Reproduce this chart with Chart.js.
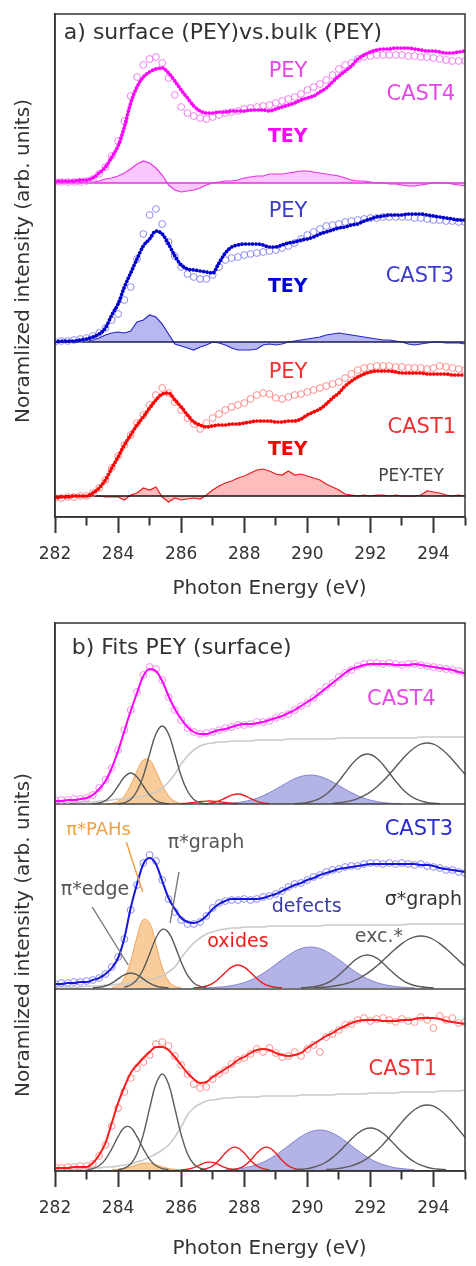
<!DOCTYPE html>
<html>
<head>
<meta charset="utf-8">
<script src="https://cdn.jsdelivr.net/npm/chart.js@4.4.1/dist/chart.umd.min.js"></script>
<style>
  html, body { margin: 0; padding: 0; background: #fff; }
  canvas { display: block; }
</style>
</head>
<body>
<canvas id="panelA" width="476" height="610"></canvas>
<canvas id="panelB" width="476" height="656"></canvas>
<script>
// === data ===
// photon energy grid shared by the spectra (eV)
const energies = [
  282.0, 282.2, 282.4, 282.6, 282.8, 283.0, 283.2, 283.4, 283.6, 283.8,
  284.0, 284.2, 284.4, 284.6, 284.8, 285.0, 285.2, 285.4, 285.6, 285.8,
  286.0, 286.2, 286.4, 286.6, 286.8, 287.0, 287.2, 287.4, 287.6, 287.8,
  288.0, 288.2, 288.4, 288.6, 288.8, 289.0, 289.2, 289.4, 289.6, 289.8,
  290.0, 290.2, 290.4, 290.6, 290.8, 291.0, 291.2, 291.4, 291.6, 291.8,
  292.0, 292.2, 292.4, 292.6, 292.8, 293.0, 293.2, 293.4, 293.6, 293.8,
  294.0, 294.2, 294.4, 294.6, 294.8, 295.0
];
const xTickLabels = [282, 284, 286, 288, 290, 292, 294];

// panel a: TEY (bulk), PEY (surface) and PEY-TEY, arb. units above each baseline
const cast4Tey = [
  2, 2, 2, 2, 3, 3, 5, 10, 16, 26,
  37, 56, 80, 96, 106, 111, 114, 115, 110, 102,
  93, 85, 77, 72, 70, 70, 71, 71, 72, 72,
  72, 73, 73, 73, 72, 74, 76, 78, 80, 83,
  85, 87, 91, 95, 101, 107, 112, 117, 124, 128,
  131, 133, 134, 134, 135, 135, 135, 134, 133, 132,
  132, 131, 130, 130, 131, 132
];
const cast4Pey = [
  1, 1, 1, 1, 1, 2, 4, 9, 16, 27,
  42, 62, 87, 106, 118, 124, 126, 120, 105, 88,
  76, 70, 67, 65, 64, 66, 68, 70, 71, 72,
  74, 75, 76, 77, 78, 80, 82, 84, 86, 89,
  93, 96, 99, 103, 108, 114, 118, 120, 124, 126,
  127, 128, 128, 128, 128, 128, 127, 127, 126, 126,
  125, 124, 123, 122, 122, 122
];
const cast4Diff = [
  0, 1, 1, 1, 1, 1, 1, 2, 4, 5,
  7, 10, 14, 19, 22, 20, 15, 8, -2, -7,
  -9, -8, -7, -5, -2, 0, 1, 2, 2, 3,
  5, 6, 7, 7, 9, 9, 9, 10, 11, 12,
  12, 11, 10, 9, 8, 7, 5, 3, 2, 2,
  1, 0, 0, -1, -1, -2, -3, -3, -2, -1,
  0, 0, 0, -1, -2, -3
];
const cast3Tey = [
  0, 1, 1, 1, 2, 3, 5, 8, 14, 27,
  38, 55, 69, 83, 96, 103, 111, 108, 98, 86,
  77, 73, 72, 71, 70, 69, 79, 89, 95, 97,
  98, 98, 98, 97, 95, 95, 97, 99, 100, 102,
  103, 105, 108, 110, 112, 114, 115, 117, 118, 121,
  123, 125, 126, 127, 127, 127, 128, 128, 128, 127,
  126, 125, 124, 123, 122, 122
];
const cast3Pey = [
  0, 1, 1, 2, 3, 4, 6, 9, 14, 22,
  28, 42, 55, 83, 108, 127, 133, 118, 100, 86,
  75, 68, 65, 63, 63, 67, 75, 82, 84, 85,
  87, 88, 89, 90, 91, 92, 94, 96, 99, 103,
  107, 110, 113, 116, 117, 118, 120, 121, 122, 123,
  124, 124, 125, 125, 125, 125, 125, 124, 124, 123,
  122, 122, 121, 121, 120, 120
];
const cast3Diff = [
  0, 0, 0, 0, 1, 1, 2, 4, 7, 9,
  10, 9, 11, 20, 22, 27, 25, 18, 8, -2,
  -4, -6, -8, -5, -3, 0, -1, -3, -6, -8,
  -8, -8, -7, -3, -2, -3, -2, 0, 1, 2,
  3, 4, 5, 7, 8, 9, 8, 7, 6, 5,
  4, 3, 2, 2, 1, 0, -2, -3, -2, -1,
  0, 0, -1, -1, -1, -2
];
const cast1Tey = [
  -2, -1, -1, 0, 0, 0, 3, 8, 16, 28,
  39, 51, 61, 71, 79, 88, 96, 102, 103, 96,
  89, 81, 74, 71, 69, 70, 71, 71, 72, 72,
  73, 74, 75, 75, 75, 74, 74, 75, 75, 77,
  81, 84, 87, 92, 98, 103, 110, 115, 119, 122,
  124, 125, 125, 125, 124, 123, 123, 123, 123, 122,
  122, 122, 122, 121, 121, 121
];
const cast1Pey = [
  -2, -2, -1, -1, 0, 0, 3, 8, 16, 28,
  40, 51, 61, 73, 81, 91, 101, 108, 103, 94,
  86, 78, 72, 67, 73, 78, 82, 86, 89, 91,
  93, 97, 101, 103, 102, 98, 97, 99, 101, 102,
  104, 106, 108, 110, 112, 114, 118, 122, 126, 128,
  129, 130, 130, 130, 129, 129, 128, 128, 128, 127,
  128, 130, 129, 128, 127, 126
];
const cast1Diff = [
  0, 0, 0, 0, 0, 0, 0, 0, -1, -1,
  -1, -4, 1, 3, 8, 6, 9, -1, -6, -2,
  -4, -3, -2, -3, 1, 6, 10, 13, 15, 18,
  20, 23, 26, 27, 25, 22, 21, 25, 21, 22,
  20, 18, 16, 12, 9, 6, 2, 1, 0, 1,
  0, 1, 1, 0, 1, 0, 0, 0, 1, 5,
  4, 3, 1, 0, 1, 0
];

// panel b: PEY data, total fit and edge step
const fit4 = [
  3, 3, 4, 4, 5, 6, 9, 15, 23, 36,
  53, 73, 93, 111, 128, 135, 133, 123, 108, 95,
  85, 77, 72, 70, 70, 72, 74, 75, 77, 79,
  80, 80, 81, 82, 84, 86, 88, 91, 94, 98,
  102, 106, 111, 116, 121, 126, 131, 135, 137, 139,
  140, 140, 140, 140, 139, 139, 139, 140, 139, 138,
  137, 136, 135, 134, 132, 131
];
const data4 = [
  4, 4, 4, 5, 5, 6, 9, 16, 24, 36,
  54, 74, 94, 112, 129, 137, 135, 124, 107, 94,
  84, 76, 72, 70, 71, 72, 74, 76, 77, 79,
  79, 80, 82, 82, 83, 86, 88, 90, 94, 98,
  101, 106, 112, 117, 121, 127, 131, 134, 138, 140,
  141, 141, 140, 141, 140, 139, 140, 140, 139, 138,
  137, 136, 135, 134, 133, 131
];
const step4 = [
  1, 1, 1, 1, 2, 2, 2, 3, 3, 4,
  5, 5, 6, 7, 8, 10, 12, 16, 22, 30,
  40, 48, 54, 58, 60, 61, 62, 62, 63, 63,
  63, 63, 64, 64, 64, 64, 64, 65, 65, 65,
  65, 65, 65, 65, 65, 66, 66, 66, 66, 66,
  66, 66, 66, 66, 66, 66, 66, 66, 67, 67,
  67, 67, 67, 67, 67, 67
];
const fit3 = [
  4, 4, 5, 5, 6, 6, 8, 10, 14, 20,
  30, 50, 80, 104, 124, 130, 124, 107, 90, 79,
  70, 66, 65, 67, 72, 79, 84, 87, 89, 89,
  89, 89, 89, 90, 92, 94, 97, 100, 103, 105,
  108, 110, 113, 115, 117, 119, 120, 121, 122, 123,
  124, 124, 124, 124, 124, 124, 124, 124, 123, 123,
  122, 120, 119, 118, 117, 116
];
const data3 = [
  4, 5, 5, 6, 6, 7, 8, 10, 14, 21,
  31, 49, 78, 103, 125, 133, 127, 108, 89, 76,
  68, 64, 64, 66, 72, 80, 85, 87, 88, 88,
  89, 88, 89, 91, 92, 94, 97, 101, 104, 105,
  108, 111, 113, 116, 118, 119, 121, 122, 122, 124,
  125, 125, 124, 125, 124, 125, 124, 123, 124, 122,
  121, 120, 118, 118, 116, 115
];
const step3 = [
  1, 1, 1, 1, 1, 2, 2, 2, 3, 3,
  4, 4, 5, 6, 7, 8, 10, 12, 16, 21,
  30, 38, 45, 50, 54, 56, 58, 59, 60, 60,
  61, 61, 61, 61, 62, 62, 62, 62, 62, 62,
  62, 62, 62, 63, 63, 63, 63, 63, 63, 63,
  63, 63, 63, 63, 63, 63, 64, 64, 64, 64,
  64, 64, 64, 64, 64, 64
];
const fit1 = [
  2, 2, 2, 3, 3, 3, 7, 15, 27, 47,
  67, 83, 97, 105, 112, 118, 123, 123, 120, 113,
  105, 97, 91, 87, 88, 93, 97, 101, 105, 110,
  113, 117, 120, 121, 120, 117, 115, 114, 115, 117,
  122, 126, 130, 134, 137, 141, 144, 147, 149, 150,
  150, 150, 149, 149, 149, 150, 150, 151, 152, 152,
  152, 151, 149, 148, 147, 146
];
const data1 = [
  3, 2, 3, 3, 4, 4, 6, 14, 25, 44,
  62, 78, 92, 102, 108, 115, 126, 128, 124, 114,
  105, 96, 86, 82, 83, 91, 96, 100, 106, 110,
  112, 116, 121, 118, 122, 117, 113, 114, 118, 114,
  121, 125, 118, 133, 136, 140, 145, 146, 150, 152,
  149, 151, 152, 150, 148, 151, 149, 148, 153, 150,
  142, 154, 150, 152, 147, 148
];
const step1 = [
  1, 1, 1, 1, 1, 2, 2, 2, 3, 3,
  4, 5, 6, 8, 10, 13, 16, 20, 25, 33,
  43, 55, 62, 66, 69, 70, 71, 72, 72, 73,
  73, 73, 73, 74, 74, 74, 74, 74, 74, 75,
  75, 75, 75, 75, 75, 76, 76, 76, 76, 76,
  77, 77, 77, 77, 77, 78, 78, 78, 78, 78,
  78, 79, 79, 79, 79, 80
];

// fitted peaks, sampled every 0.2 eV from the given start energy
const part = (from, values) => ({ from, values });

const b4Edge = part(283.2, [0.2, 1, 3.4, 9, 18, 27, 31, 27, 18, 9, 3.4, 1, 0.2]);
const b4Pah = part(283.6, [0.1, 0.7, 2.7, 8.3, 19, 33, 44, 44, 33, 19, 8.3, 2.7, 0.7, 0.1]);
const b4Graph = part(284.0, [0.3, 1.3, 4.6, 13, 28, 50, 70, 78, 70, 50, 28, 13, 4.6, 1.3, 0.3]);
const b4Ox1 = part(286.0, [0.3, 0.8, 1.6, 2.4, 2.9, 2.9, 2.3, 1.5, 0.8, 0.3]);
const b4Ox2 = part(286.8, [0.4, 1.2, 3.2, 6, 8.8, 10, 8.5, 5.5, 2.7, 1.0, 0.3]);
const b4Def = part(287.2, [0.3, 0.5, 0.9, 1.5, 2.5, 3.9, 5.8, 8.3, 11.4, 14.8, 18.5, 22.1, 25.3, 27.6, 28.8,
  28.8, 27.6, 25.3, 22.1, 18.5, 14.8, 11.4, 8.3, 5.8, 3.9, 2.5, 1.5, 0.9, 0.5, 0.3]);
const b4Exc = part(289.6, [0.3, 0.7, 1.5, 3.1, 5.7, 9.8, 15.6, 22.9, 31.2, 39.3, 45.8, 49.5,
  49.5, 45.8, 39.3, 31.2, 22.9, 15.6, 9.8, 5.7, 3.1, 1.5, 0.7, 0.3]);
const b4Sig = part(290.8, [0.7, 1.2, 2.1, 3.4, 5.4, 8.3, 12.1, 17, 22.9, 29.7, 37, 44.3, 51, 56.3, 59.8, 61,
  59.8, 56.3, 51, 44.3, 37, 29.7]);

const b3Edge = part(283.2, [0.2, 0.7, 2, 4.9, 9.1, 13.2, 15, 13.2, 9.1, 4.9, 2, 0.7, 0.2]);
const b3Pah = part(283.8, [0.5, 2.6, 10, 26.9, 51, 68.5, 65, 43.7, 20.8, 7, 1.7, 0.3]);
const b3Graph = part(284.2, [0.9, 3, 8.4, 18.8, 34.1, 49.8, 58.6, 55.5, 42.4, 26, 12.9, 5.1, 1.7, 0.4]);
const b3Ox = part(286.4, [0.2, 0.7, 2, 4.7, 9.5, 15.5, 20.8, 23, 20.8, 15.5, 9.5, 4.7, 2, 0.7, 0.2]);
const b3Def = part(286.8, [0.3, 0.5, 0.9, 1.5, 2.4, 3.7, 5.5, 7.9, 11, 14.7, 19, 23.7, 28.4, 32.8, 36.6, 39.4, 40.8,
  40.8, 39.4, 36.6, 32.8, 28.4, 23.7, 19, 14.7, 11, 7.9, 5.5, 3.7, 2.4, 1.5, 0.9, 0.5, 0.3]);
const b3Exc = part(289.8, [0.2, 0.5, 1.2, 2.5, 4.7, 8.2, 13, 18.8, 24.8, 29.8, 32.6,
  32.6, 29.8, 24.8, 18.8, 13, 8.2, 4.7, 2.5, 1.2, 0.5, 0.2]);
const b3Sig = part(290.2, [0.3, 0.6, 1.0, 1.7, 2.7, 4.2, 6.2, 9, 12.6, 16.9, 22, 27.6, 33.5, 39.3, 44.4, 48.5, 51.1, 52,
  51.1, 48.5, 44.4, 39.3, 33.5, 27.6, 22]);

const b1Edge = part(283.0, [0.4, 1.4, 4.3, 10.7, 21.2, 33.3, 42.5, 42.5, 33.3, 21.2, 10.7, 4.3, 1.4, 0.4]);
const b1Pah = part(283.8, [0.2, 0.6, 1.5, 3.2, 5.3, 6.8, 6.8, 5.3, 3.2, 1.5, 0.6, 0.2]);
const b1Graph = part(284.0, [0.4, 1.8, 6, 16.3, 35.4, 61.6, 85.9, 96, 85.9, 61.6, 35.4, 16.3, 6, 1.8, 0.4]);
const b1Ox1 = part(286.0, [0.2, 0.7, 2.4, 5.2, 7.6, 7.6, 5.2, 2.4, 0.7, 0.2]);
const b1Ox2 = part(286.6, [0.3, 1.4, 4.2, 9.7, 16.9, 22.2, 22.2, 16.9, 9.7, 4.2, 1.4, 0.3]);
const b1Ox3 = part(287.6, [0.3, 1.4, 4.2, 9.7, 16.9, 22.2, 22.2, 16.9, 9.7, 4.2, 1.4, 0.3]);
const b1Def = part(287.4, [0.4, 0.8, 1.4, 2.2, 3.6, 5.4, 7.9, 11.1, 15, 19.5, 24.3, 29, 33.4, 36.9, 39.2, 40,
  39.2, 36.9, 33.4, 29, 24.3, 19.5, 15, 11.1, 7.9, 5.4, 3.6, 2.2, 1.4, 0.8, 0.4]);
const b1Exc = part(289.6, [0.3, 0.7, 1.4, 2.7, 4.8, 8, 12.4, 18, 24.4, 31, 36.7, 40.6, 42,
  40.6, 36.7, 31, 24.4, 18, 12.4, 8, 4.8, 2.7, 1.4, 0.7, 0.3]);
const b1Sig = part(290.6, [0.5, 0.9, 1.6, 2.6, 4.2, 6.5, 9.7, 13.9, 19.2, 25.6, 32.7, 40.4, 47.9, 54.8, 60.2, 63.8, 65,
  63.8, 60.2, 54.8, 47.9, 40.4, 32.7]);

// === helpers ===
const FONT = '"DejaVu Sans", sans-serif';
Chart.defaults.font.family = FONT;
Chart.defaults.color = '#333';
const Y_TITLE = 'Noramlized intensity (arb. units)';
const X_TITLE = 'Photon Energy (eV)';

const pts = (vals, off, from = 282.0) => {
  const i0 = energies.indexOf(from);
  return vals.map((v, k) => ({ x: energies[i0 + k], y: off + v }));
};
const flat = off => [{ x: 282, y: off }, { x: 295, y: off }];

function xAxis(height) {
  return {
    type: 'linear', min: 282, max: 295,
    afterFit: s => { s.height = height; },
    ticks: {
      stepSize: 1, autoSkip: false, maxRotation: 0, padding: 11, color: '#333',
      font: { size: 17 },
      callback: v => (xTickLabels.includes(v) ? String(v) : '')
    },
    grid: {
      display: true, drawOnChartArea: false, drawTicks: true, tickLength: 16,
      tickWidth: 2, tickColor: '#333',
      tickBorderDash: c => (c.tick && !xTickLabels.includes(c.tick.value) ? [8, 100] : [])
    },
    border: { display: true, color: '#333', width: 1.5 },
    title: { display: false }
  };
}
function yAxis(max) {
  return {
    min: 0, max,
    afterFit: s => { s.width = 55; },
    ticks: { display: false },
    grid: { display: false },
    border: { display: true, color: '#333', width: 1.5 },
    title: { display: false }
  };
}

// frame + text labels, placed in data coordinates
function notesPlugin(texts, lines) {
  return {
    id: 'notes',
    afterDatasetsDraw(chart) {
      const { ctx, chartArea: a, scales: { x, y } } = chart;
      ctx.save();
      ctx.strokeStyle = '#333';
      ctx.lineWidth = 1.5;
      ctx.strokeRect(a.left, a.top, a.right - a.left, a.bottom - a.top);
      lines.forEach(l => {
        ctx.strokeStyle = l.color;
        ctx.lineWidth = 1.4;
        ctx.beginPath();
        ctx.moveTo(x.getPixelForValue(l.x1), y.getPixelForValue(l.y1));
        ctx.lineTo(x.getPixelForValue(l.x2), y.getPixelForValue(l.y2));
        ctx.stroke();
      });
      texts.forEach(t => {
        ctx.save();
        ctx.font = `${t.bold ? 'bold ' : ''}${t.size}px ${FONT}`;
        ctx.fillStyle = t.color;
        ctx.textAlign = t.align || 'center';
        ctx.textBaseline = 'middle';
        ctx.translate(x.getPixelForValue(t.x), y.getPixelForValue(t.y));
        if (t.rotate) ctx.rotate(-Math.PI / 2);
        ctx.fillText(t.text, 0, 0);
        ctx.restore();
      });
      ctx.restore();
    }
  };
}

function options(yMax, xHeight, padTop) {
  return {
    responsive: false, animation: false, events: [],
    layout: { padding: { top: padTop, right: 1, left: 0, bottom: 0 } },
    plugins: { legend: { display: false }, tooltip: { enabled: false } },
    scales: { x: xAxis(xHeight), y: yAxis(yMax) }
  };
}

// === panel a ===
function groupA(tey, pey, diff, off, c) {
  return [
    { data: pts(tey, off), borderColor: c.tey, borderWidth: 3.7, borderDash: [0.01, 3.5], borderCapStyle: 'round',
      pointRadius: 0, cubicInterpolationMode: 'monotone', order: 1 },
    { data: pts(pey, off), showLine: false, pointRadius: 3.4, pointBorderWidth: 1, pointBorderColor: c.pey,
      pointBackgroundColor: 'rgba(255,255,255,0)', order: 2 },
    { data: flat(off), borderColor: c.base, borderWidth: 1.4, pointRadius: 0, order: 3 },
    { data: pts(diff, off), borderColor: c.diff, borderWidth: 1.2, backgroundColor: c.fill, fill: { value: off },
      pointRadius: 0, tension: 0, order: 4 }
  ];
}

const offA = { cast4: 334, cast3: 175, cast1: 21 };
const textsA = [
  { text: 'a) surface (PEY)vs.bulk (PEY)', x: 282.28, y: 484, size: 22, color: '#333', align: 'left' },
  { text: 'PEY', x: 289.39, y: 445, size: 21, color: '#e646e6' },
  { text: 'TEY', x: 289.38, y: 380, size: 19, color: '#ff00ff', bold: true },
  { text: 'CAST4', x: 293.6, y: 422, size: 21, color: '#e646e6' },
  { text: 'PEY', x: 289.39, y: 305, size: 21, color: '#3c3cc8' },
  { text: 'TEY', x: 289.38, y: 230, size: 19, color: '#0000e0', bold: true },
  { text: 'CAST3', x: 293.57, y: 240, size: 21, color: '#3c3cc8' },
  { text: 'PEY', x: 289.39, y: 144, size: 21, color: '#f03030' },
  { text: 'TEY', x: 289.38, y: 67, size: 19, color: '#ff0000', bold: true },
  { text: 'CAST1', x: 293.63, y: 89, size: 21, color: '#f03030' },
  { text: 'PEY-TEY', x: 293.29, y: 40, size: 17, color: '#444' },
  { text: X_TITLE, x: 288.8, y: -72, size: 20, color: '#333' },
  { text: Y_TITLE, x: 281.0, y: 256, size: 20, color: '#333', rotate: true }
];

new Chart(document.getElementById('panelA'), {
  type: 'line',
  data: {
    datasets: [
      ...groupA(cast4Tey, cast4Pey, cast4Diff, offA.cast4,
        { tey: '#ff00ff', pey: '#f07ef0', base: '#e830e8', diff: '#e830e8', fill: 'rgba(248,130,248,0.45)' }),
      ...groupA(cast3Tey, cast3Pey, cast3Diff, offA.cast3,
        { tey: '#0000cc', pey: '#8c8cee', base: '#1c1c5c', diff: '#2828c8', fill: 'rgba(95,95,225,0.45)' }),
      ...groupA(cast1Tey, cast1Pey, cast1Diff, offA.cast1,
        { tey: '#ff0000', pey: '#ff8c8c', base: '#111111', diff: '#e81c1c', fill: 'rgba(255,95,95,0.42)' })
    ]
  },
  options: options(503, 93, 14),
  plugins: [notesPlugin(textsA, [])]
});

// === panel b ===
const GRAY = '#5a5a5a';
const RED = '#ee1c1c';
function partLine(p, off, color) {
  return { data: pts(p.values, off, p.from), borderColor: color, borderWidth: 1.4, pointRadius: 0, tension: 0.4, order: 4 };
}
function partFill(p, off, line, fill) {
  return { data: pts(p.values, off, p.from), borderColor: line, borderWidth: 1, backgroundColor: fill,
    fill: { value: off }, pointRadius: 0, tension: 0.4, order: 6 };
}
function groupB(fit, data, step, grays, reds, pah, def, off, c) {
  return [
    { data: pts(fit, off), borderColor: c.fit, borderWidth: 2, pointRadius: 0, cubicInterpolationMode: 'monotone', order: 1 },
    { data: pts(data, off), showLine: false, pointRadius: 3.4, pointBorderWidth: 1, pointBorderColor: c.data,
      pointBackgroundColor: 'rgba(255,255,255,0)', order: 2 },
    { data: pts(step, off), borderColor: '#cacaca', borderWidth: 1.6, pointRadius: 0, cubicInterpolationMode: 'monotone', order: 5 },
    ...grays.map(p => partLine(p, off, GRAY)),
    ...reds.map(p => partLine(p, off, RED)),
    partFill(pah, off, '#f0a458', 'rgba(245,172,95,0.62)'),
    partFill(def, off, 'rgba(105,105,200,0.75)', 'rgba(110,110,205,0.52)')
  ];
}

const offB = { cast4: 367, cast3: 183, cast1: 1 };
const separatorsB = [367, 182];
const textsB = [
  { text: 'b) Fits PEY (surface)', x: 282.53, y: 523, size: 22, color: '#333', align: 'left' },
  { text: 'CAST4', x: 292.98, y: 471, size: 21, color: '#e646e6' },
  { text: 'CAST3', x: 293.54, y: 341, size: 21, color: '#2a2ad0' },
  { text: 'π*PAHs', x: 283.38, y: 341, size: 18, color: '#f0a040' },
  { text: 'π*graph', x: 286.79, y: 328, size: 19, color: '#555' },
  { text: 'π*edge', x: 283.27, y: 281, size: 19, color: '#555' },
  { text: 'oxides', x: 287.8, y: 229, size: 19, color: RED },
  { text: 'defects', x: 289.98, y: 264, size: 19, color: '#3a3aa8' },
  { text: 'σ*graph', x: 293.68, y: 271, size: 19, color: '#333' },
  { text: 'exc.*', x: 292.27, y: 234, size: 19, color: '#555' },
  { text: 'CAST1', x: 293.03, y: 101, size: 21, color: '#f03030' },
  { text: X_TITLE, x: 288.8, y: -78, size: 20, color: '#333' },
  { text: Y_TITLE, x: 281.0, y: 236, size: 20, color: '#333', rotate: true }
];
const linesB = [
  { x1: 284.26, y1: 329, x2: 284.78, y2: 279, color: '#f0a040' },
  { x1: 285.93, y1: 299, x2: 285.65, y2: 248, color: '#777' },
  { x1: 283.18, y1: 264, x2: 284.32, y2: 206, color: '#777' }
];

new Chart(document.getElementById('panelB'), {
  type: 'line',
  data: {
    datasets: [
      ...separatorsB.map(v => ({ data: flat(v), borderColor: '#444', borderWidth: 1.5, pointRadius: 0, order: 3 })),
      ...groupB(fit4, data4, step4, [b4Edge, b4Graph, b4Exc, b4Sig], [b4Ox1, b4Ox2], b4Pah, b4Def, offB.cast4,
        { fit: '#ff00ff', data: '#f08cf0' }),
      ...groupB(fit3, data3, step3, [b3Edge, b3Graph, b3Exc, b3Sig], [b3Ox], b3Pah, b3Def, offB.cast3,
        { fit: '#1515e0', data: '#8a8aee' }),
      ...groupB(fit1, data1, step1, [b1Edge, b1Graph, b1Exc, b1Sig], [b1Ox1, b1Ox2, b1Ox3], b1Pah, b1Def, offB.cast1,
        { fit: '#ff1a1a', data: '#ff8f8f' })
    ]
  },
  options: options(548, 95, 13),
  plugins: [notesPlugin(textsB, linesB)]
});
</script>
</body>
</html>
